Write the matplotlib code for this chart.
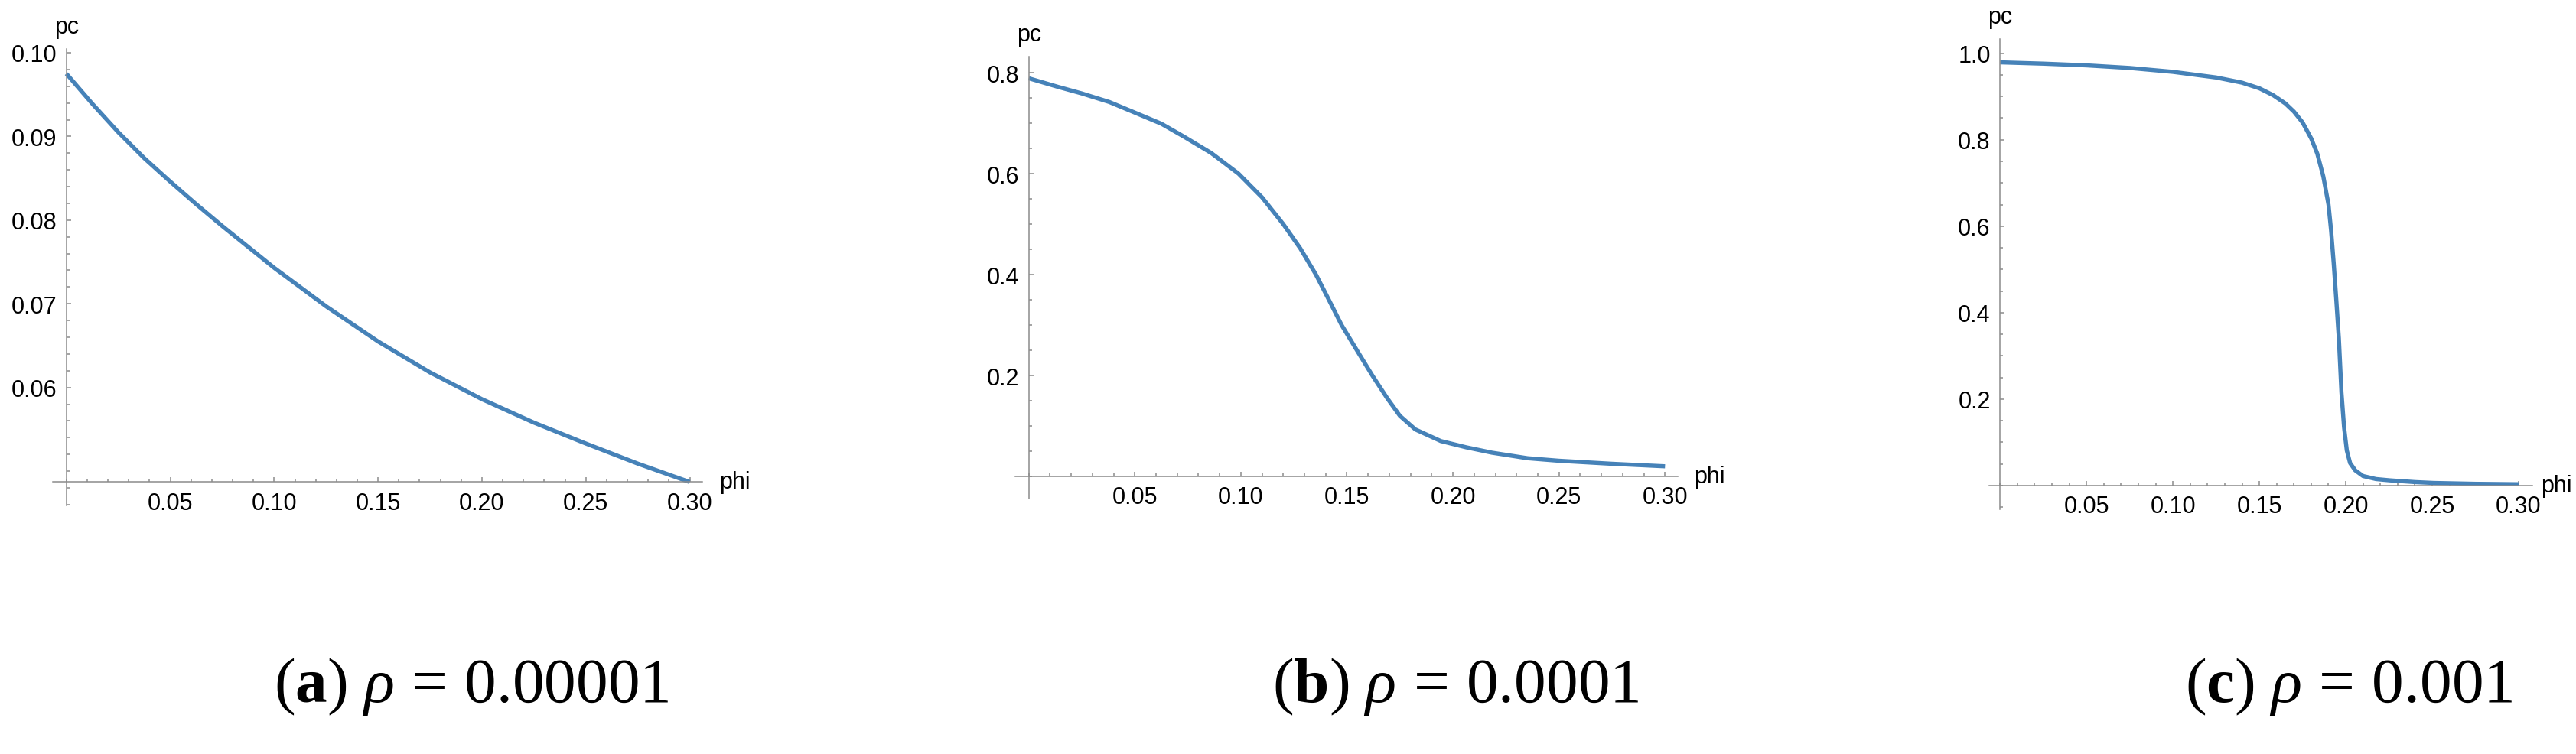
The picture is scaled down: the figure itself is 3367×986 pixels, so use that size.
import matplotlib
matplotlib.use('Agg')
import matplotlib.pyplot as plt
from matplotlib.ticker import MultipleLocator
from matplotlib import font_manager

# data
phi_a = [0, 0.0125, 0.025, 0.0375, 0.05, 0.0625, 0.075, 0.1, 0.125, 0.15, 0.175, 0.2, 0.225, 0.25, 0.275, 0.3]
pc_a = [0.0975, 0.0939, 0.0905, 0.0874, 0.0846, 0.0819, 0.0793, 0.0743, 0.0697, 0.0655, 0.0618, 0.0586,
        0.0558, 0.0533, 0.0509, 0.0487]

phi_b = [0, 0.0138, 0.025, 0.038, 0.05, 0.0625, 0.0729, 0.086, 0.0989, 0.11, 0.120, 0.128, 0.1354,
         0.1415, 0.1475, 0.155, 0.162, 0.169, 0.175, 0.1823, 0.1943, 0.2063, 0.2184, 0.2352, 0.25, 0.275, 0.3]
pc_b = [0.789, 0.772, 0.759, 0.742, 0.721, 0.699, 0.674, 0.641, 0.600, 0.553, 0.500, 0.452, 0.400,
        0.350, 0.300, 0.248, 0.200, 0.155, 0.120, 0.093, 0.070, 0.0576, 0.047, 0.036, 0.031, 0.025, 0.020]

phi_c = [0, 0.025, 0.05, 0.075, 0.1, 0.125, 0.14, 0.15, 0.158, 0.165, 0.17, 0.175, 0.18, 0.1835, 0.187,
         0.19, 0.1915, 0.193, 0.1945, 0.196, 0.1975, 0.199, 0.2006, 0.2025, 0.2055, 0.21, 0.2175, 0.2255,
         0.24, 0.2508, 0.275, 0.3]
pc_c = [0.979, 0.976, 0.972, 0.966, 0.957, 0.944, 0.932, 0.919, 0.903, 0.884, 0.865, 0.840, 0.803, 0.768,
        0.715, 0.650, 0.590, 0.515, 0.430, 0.340, 0.215, 0.135, 0.081, 0.052, 0.035, 0.022, 0.015, 0.012,
        0.008, 0.006, 0.004, 0.003]

xticks = [0.05, 0.10, 0.15, 0.20, 0.25, 0.30]
yticks_a = [0.06, 0.07, 0.08, 0.09, 0.10]
yticks_b = [0.2, 0.4, 0.6, 0.8]
yticks_c = [0.2, 0.4, 0.6, 0.8, 1.0]
captions = [r'$\mathrm{(}\mathbf{a}\mathrm{)}\ \mathit{\rho}\,=\,0.00001$',
            r'$\mathrm{(}\mathbf{b}\mathrm{)}\ \mathit{\rho}\,=\,0.0001$',
            r'$\mathrm{(}\mathbf{c}\mathrm{)}\ \mathit{\rho}\,=\,0.001$']

names = {f.name for f in font_manager.fontManager.ttflist}
sans = 'Liberation Sans Narrow' if 'Liberation Sans Narrow' in names else 'Liberation Sans'
plt.rcParams['font.family'] = [sans, 'DejaVu Sans']
plt.rcParams['mathtext.fontset'] = 'custom'
plt.rcParams['mathtext.rm'] = 'Liberation Serif'
plt.rcParams['mathtext.it'] = 'Liberation Serif:italic'
plt.rcParams['mathtext.bf'] = 'Liberation Serif:bold'

line_col = '#4682b8'
axis_col = '#8c8c8c'

fig = plt.figure(figsize=(33.67, 9.87), dpi=100)

panels = [
    # rect, x, y, yticks, y label format, y minor step, xlim, ylim, y of x-axis, caption x, phi offset
    ([0.0206, 0.3293, 0.2520, 0.6049], phi_a, pc_a, yticks_a, '{:.2f}', 0.002, (-0.0064, 0.306), (0.0459, 0.10046), 0.0487, 0.183, 16),
    ([0.3941, 0.3384, 0.2572, 0.5856], phi_b, pc_b, yticks_b, '{:.1f}', 0.05, (-0.0064, 0.306), (-0.044, 0.832), 0.0, 0.565, 15),
    ([0.7722, 0.3242, 0.2109, 0.6231], phi_c, pc_c, yticks_c, '{:.1f}', 0.05, (-0.0063, 0.308), (-0.055, 1.033), 0.0, 0.912, 8),
]

for i, (rect, xs, ys, yt, yfmt, ymin_step, xl, yl, y0, cx, phi_off) in enumerate(panels):
    ax = fig.add_axes(rect)
    ax.plot(xs, ys, color=line_col, lw=3.9, solid_joinstyle='round', solid_capstyle='butt')
    ax.set_xlim(*xl)
    ax.set_ylim(*yl)
    ax.spines['top'].set_visible(False)
    ax.spines['right'].set_visible(False)
    ax.spines['left'].set_position(('data', 0))
    ax.spines['bottom'].set_position(('data', y0))
    for s in ('left', 'bottom'):
        ax.spines[s].set_color(axis_col)
        ax.spines[s].set_linewidth(1.1)
    ax.set_xticks(xticks)
    ax.set_xticklabels([f'{v:.2f}' for v in xticks])
    ax.set_yticks(yt)
    ax.set_yticklabels([yfmt.format(v) for v in yt])
    ax.xaxis.set_minor_locator(MultipleLocator(0.01))
    ax.yaxis.set_minor_locator(MultipleLocator(ymin_step))
    ax.tick_params(which='both', direction='in', color=axis_col, width=1.1, labelsize=22, labelcolor='black')
    ax.tick_params(which='major', length=4.5)
    ax.tick_params(which='minor', length=2.6)
    ax.tick_params(axis='x', which='major', pad=9)
    ax.tick_params(axis='y', which='major', pad=9)
    ax.patch.set_visible(False)

    # axis labels at the ends of the axes
    ax.annotate('pc', xy=(0, 1), xycoords=('data', 'axes fraction'), xytext=(0, 21),
                textcoords='offset points', ha='center', va='center', fontsize=22)
    ax.annotate('phi', xy=(1, y0), xycoords=('axes fraction', 'data'), xytext=(phi_off, 0),
                textcoords='offset points', ha='left', va='center', fontsize=22)

    fig.text(cx, 0.07, captions[i], ha='center', va='baseline', fontsize=60)

fig.savefig('out.png', dpi=100)
